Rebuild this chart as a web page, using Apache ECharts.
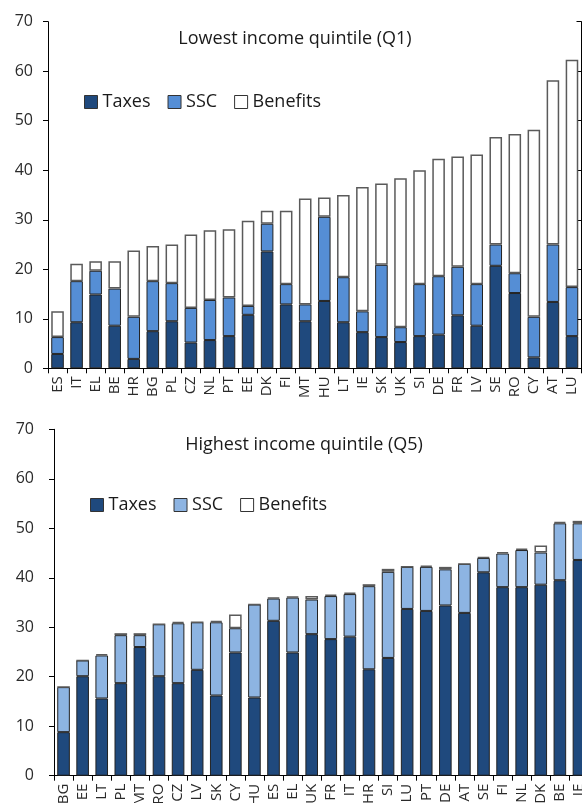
<!DOCTYPE html>
<html>
<head>
<meta charset="utf-8">
<script src="https://cdn.jsdelivr.net/npm/echarts@6/dist/echarts.min.js"></script>
<style>
html,body{margin:0;padding:0;background:#fff;}
#c{width:582px;height:803px;}
</style>
</head>
<body>
<div id="c"></div>
<script>
// Lowest income quintile (Q1)
const categoriesQ1 = ['ES','IT','EL','BE','HR','BG','PL','CZ','NL','PT','EE','DK','FI','MT','HU','LT','IE','SK','UK','SI','DE','FR','LV','SE','RO','CY','AT','LU'];
const taxesQ1    = [2.9, 9.3, 14.9, 8.6, 1.9, 7.5, 9.5, 5.2, 5.7, 6.5, 10.8, 23.6, 12.9, 9.5, 13.6, 9.3, 7.3, 6.3, 5.3, 6.5, 6.8, 10.7, 8.6, 20.7, 15.2, 2.2, 13.4, 6.5];
const sscQ1      = [3.4, 8.3, 4.8, 7.5, 8.5, 10.1, 7.7, 7.0, 8.1, 7.8, 1.8, 5.6, 4.1, 3.4, 17.0, 9.1, 4.2, 14.6, 3.0, 10.5, 11.8, 9.8, 8.4, 4.3, 4.0, 8.2, 11.6, 9.9];
const benefitsQ1 = [5.2, 3.5, 1.9, 5.5, 13.4, 7.1, 7.8, 14.8, 14.1, 13.8, 17.2, 2.6, 14.8, 21.4, 3.9, 16.6, 25.1, 16.4, 30.1, 23.0, 23.7, 22.3, 26.2, 21.7, 28.1, 37.8, 33.2, 45.9];

// Highest income quintile (Q5)
const categoriesQ5 = ['BG','EE','LT','PL','MT','RO','CZ','LV','SK','CY','HU','ES','EL','UK','FR','IT','HR','SI','LU','PT','DE','AT','SE','FI','NL','DK','BE','IE'];
const taxesQ5    = [8.8, 20.1, 15.6, 18.7, 26.0, 20.1, 18.7, 21.4, 16.2, 24.9, 15.8, 31.3, 24.9, 28.6, 27.6, 28.1, 21.5, 23.8, 33.7, 33.3, 34.4, 32.9, 41.1, 38.1, 38.1, 38.6, 39.5, 43.6];
const sscQ5      = [9.1, 3.2, 8.7, 9.7, 2.4, 10.5, 12.1, 9.6, 14.8, 4.9, 18.8, 4.5, 11.1, 7.0, 8.7, 8.6, 16.8, 17.4, 8.5, 8.9, 7.3, 9.9, 2.9, 6.8, 7.5, 6.5, 11.5, 7.4];
const benefitsQ5 = [0, 0, 0.3, 0.4, 0.4, 0, 0.3, 0, 0.3, 2.8, 0, 0.2, 0.2, 0.7, 0.3, 0.3, 0.4, 0.6, 0, 0.3, 0.5, 0, 0.2, 0.3, 0.3, 1.4, 0.3, 0.5];

const seriesNames = ['Taxes','SSC','Benefits'];
const titles = ['Lowest income quintile (Q1)','Highest income quintile (Q5)'];

const FONT = 'Open Sans';
const taxColor = '#1f497d';
const sscColorQ1 = '#558ed5';
const sscColorQ5 = '#8db4e2';
const benColor = '#ffffff';

function yAxes(gridIndex){
  const base = {
    type:'value', gridIndex:gridIndex, min:0, max:70, interval:10,
    splitLine:{show:false},
    axisLine:{show:true, lineStyle:{color:'#000', width:1}}
  };
  return [
    Object.assign({}, base, {
      axisTick:{show:true, inside:false, length:5, lineStyle:{color:'#000'}},
      axisLabel:{show:true, color:'#2a2a2a', fontFamily:FONT, fontSize:16, margin:gridIndex===0?15:20}
    }),
    Object.assign({}, base, {
      axisTick:{show:true, inside:true, length:5, lineStyle:{color:'#000'}},
      axisLabel:{show:false}
    })
  ];
}

function xAxis(gridIndex, cats){
  return {
    type:'category', gridIndex:gridIndex, data:cats,
    axisLine:{show:true, lineStyle:{color:'#000', width:1}},
    axisTick:{show:true, alignWithLabel:false, length:5, lineStyle:{color:'#000'}},
    axisLabel:{rotate:90, interval:0, color:'#2a2a2a', fontFamily:FONT, fontSize:15, margin:8}
  };
}

function barSeries(gridIdx, name, data, color, border, bw){
  return {
    type:'bar', name:name, data:data, stack:'s'+gridIdx,
    xAxisIndex:gridIdx, yAxisIndex:gridIdx*2,
    barCategoryGap:'34%',
    itemStyle:{color:color, borderColor:border, borderWidth:bw},
    emphasis:{disabled:true}
  };
}

function legend(left, top, sscColor){
  return {
    left:left, top:top, itemWidth:13, itemHeight:13, itemGap:17, padding:0,
    icon:'rect',
    textStyle:{fontFamily:FONT, fontSize:18, color:'#1a1a1a'},
    data: seriesNames.map((n,i)=>({
      name:n,
      itemStyle:{color:[taxColor, sscColor, benColor][i], borderColor:'#333', borderWidth:1}
    })),
    selectedMode:false
  };
}

const chart = echarts.init(document.getElementById('c'), null, {renderer:'canvas'});

const option = {
  animation:false,
  backgroundColor:'#fff',
  title:[
    {text:titles[0], left:295, top:30, textAlign:'center', padding:0,
     textStyle:{fontFamily:FONT, fontSize:18, fontWeight:'normal', color:'#1a1a1a'}},
    {text:titles[1], left:304, top:436, textAlign:'center', padding:0,
     textStyle:{fontFamily:FONT, fontSize:18, fontWeight:'normal', color:'#1a1a1a'}}
  ],
  legend:[
    legend(84, 93, sscColorQ1),
    legend(90, 496, sscColorQ5)
  ],
  grid:[
    {left:48, top:21.7, bottom:803-368.3, right:0.5, outerBoundsMode:'none', containLabel:false},
    {left:54, top:429.3, bottom:803-775.7, right:-6.5, outerBoundsMode:'none', containLabel:false}
  ],
  xAxis:[xAxis(0, categoriesQ1), xAxis(1, categoriesQ5)],
  yAxis:[].concat(yAxes(0), yAxes(1)),
  series:[
    barSeries(0, 'Taxes', taxesQ1, taxColor, '#222', 1),
    barSeries(0, 'SSC', sscQ1, sscColorQ1, '#222', 1),
    barSeries(0, 'Benefits', benefitsQ1, benColor, '#5a5a5a', 1.5),
    barSeries(1, 'Taxes', taxesQ5, taxColor, '#222', 1),
    barSeries(1, 'SSC', sscQ5, sscColorQ5, '#222', 1),
    barSeries(1, 'Benefits', benefitsQ5, benColor, '#5a5a5a', 1.5)
  ]
};
chart.setOption(option);
</script>
</body>
</html>
